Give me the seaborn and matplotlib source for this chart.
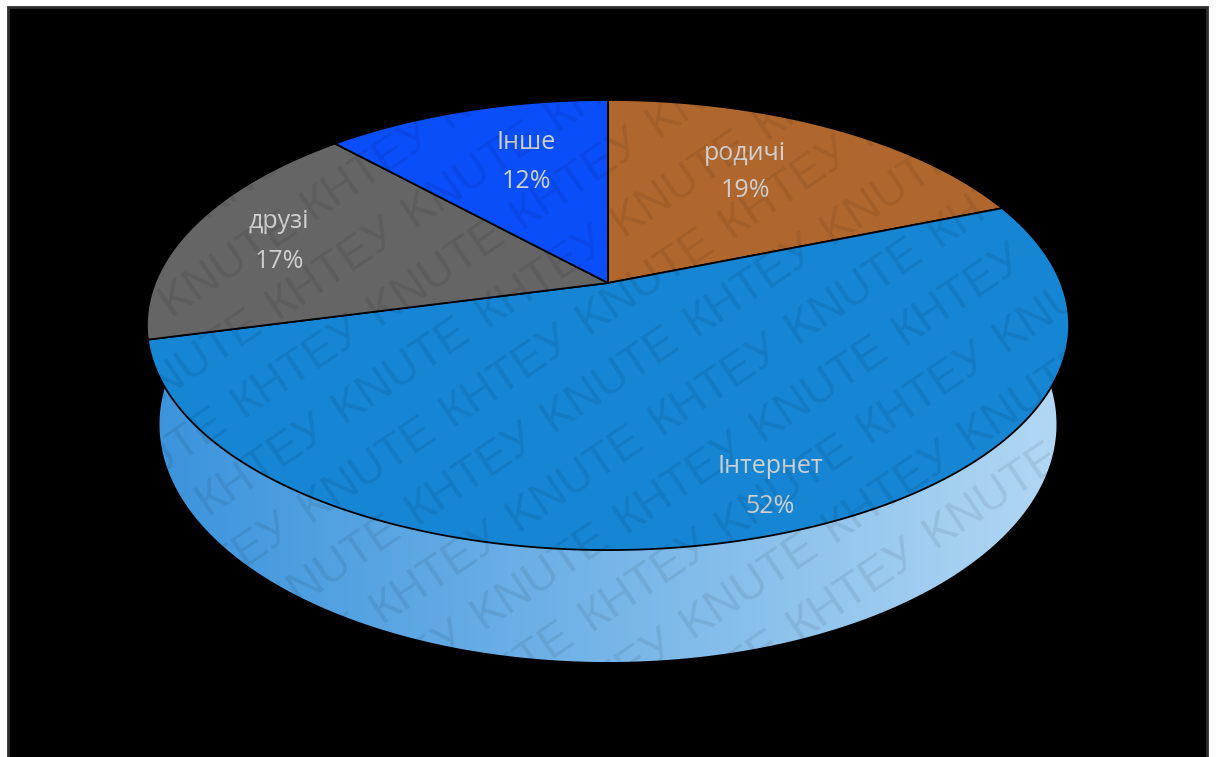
import numpy as np
import matplotlib
matplotlib.use("Agg")
import matplotlib.pyplot as plt
from matplotlib.patches import Polygon, Rectangle
import seaborn as sns

# Survey: where information comes from (share of answers, %)
categories = ["родичі", "Інтернет", "друзі", "Інше"]
shares = [19, 52, 17, 12]
top_colors = ["#B0672D", "#1585D4", "#656565", "#0A4EFA"]

# label anchors (pixel x, baseline of name line, baseline of percent line)
label_xy = [(745, 160, 197), (770, 473, 513), (279, 228, 268), (526, 149, 188)]

sns.set_theme(style="white")
plt.rcParams["font.family"] = ["Open Sans", "DejaVu Sans"]

W, H = 1220, 757
fig = plt.figure(figsize=(W / 100, H / 100), dpi=100, facecolor="white")
ax = fig.add_axes([0, 0, 1, 1])
ax.set_xlim(0, W)
ax.set_ylim(H, 0)
ax.axis("off")

# dark plot area with a thin grey frame
ax.add_patch(Rectangle((8, 7), 1199, 770, facecolor="black",
                       edgecolor="#2e2e2e", lw=2, zorder=0))

# perspective projection of a tilted disc (3-D pie)
CX, CY = 608, 283
A, B, K = 453.0, 217.2, 0.1867
VX, VY, T0 = 608.0, 4000.0, 0.0264


def rim(phi_deg, lower=False):
    phi = np.radians(phi_deg)
    u, v = np.sin(phi), np.cos(phi)
    w = 1 + K * v
    x = CX + A * u / w
    y = CY - B * v / w
    if lower:
        t = T0 / w
        x = x + (VX - x) * t
        y = y + (VY - y) * t
    return x, y


bounds = np.concatenate([[0], np.cumsum(shares)]) * 360.0 / sum(shares)
side_cmap = sns.blend_palette(["#3A93DC", "#B3D8F4"], n_colors=256, as_cmap=True)

# visible front wall of the cylinder, shaded left to right
phis = np.linspace(90.0, 270.0, 600)
tx, ty = rim(phis)
bx, by = rim(phis[::-1], lower=True)
wall = np.column_stack([np.concatenate([tx, bx]), np.concatenate([ty, by])])
clip = Polygon(wall, closed=True, facecolor="none", edgecolor="none")
ax.add_patch(clip)
grad = np.linspace(0, 1, 512)[None, :]
im = ax.imshow(grad, cmap=side_cmap, aspect="auto", zorder=1,
               extent=(wall[:, 0].min(), wall[:, 0].max(),
                       wall[:, 1].max(), wall[:, 1].min()))
im.set_clip_path(clip)

# top face wedges
for i, cat in enumerate(categories):
    ph = np.linspace(bounds[i], bounds[i + 1], 300)
    ax_, ay_ = rim(ph)
    pts = np.column_stack([np.concatenate([[CX], ax_]), np.concatenate([[CY], ay_])])
    ax.add_patch(Polygon(pts, closed=True, facecolor=top_colors[i],
                         edgecolor="black", lw=1.3, zorder=3))

# data labels
for cat, val, (lx, ny, py) in zip(categories, shares, label_xy):
    ax.text(lx, ny, cat, ha="center", va="baseline", fontsize=18,
            color="#D0D0D0", zorder=5)
    ax.text(lx, py, f"{val}%", ha="center", va="baseline", fontsize=18,
            color="#D0D0D0", zorder=5)

ax.set_xlim(0, W)
ax.set_ylim(H, 0)

# diagonal watermark lattice of single words
ang = 34.0
along = np.array([np.cos(np.radians(ang)), -np.sin(np.radians(ang))])
across = np.array([np.sin(np.radians(ang)), np.cos(np.radians(ang))])
words = ["KNUTE", "КНТЕУ"]
marks = []
for r in range(-14, 15):
    for c in range(-8, 9):
        p = np.array([610, 380]) + r * 62 * across + (c * 168 + r * 84) * along
        t = ax.text(p[0], p[1], words[(c + r) % 2], rotation=ang,
                    rotation_mode="anchor", ha="center", va="center",
                    fontsize=33, family="Liberation Sans", color="black",
                    alpha=0.08, zorder=6)
        marks.append(t)

fig.canvas.draw()
renderer = fig.canvas.get_renderer()
fw, fh = fig.canvas.get_width_height()
for t in marks:
    bb = t.get_window_extent(renderer)
    if bb.x0 < 0 or bb.y0 < 0 or bb.x1 > fw or bb.y1 > fh:
        t.remove()

fig.savefig("out.png", dpi=100, facecolor="white")
